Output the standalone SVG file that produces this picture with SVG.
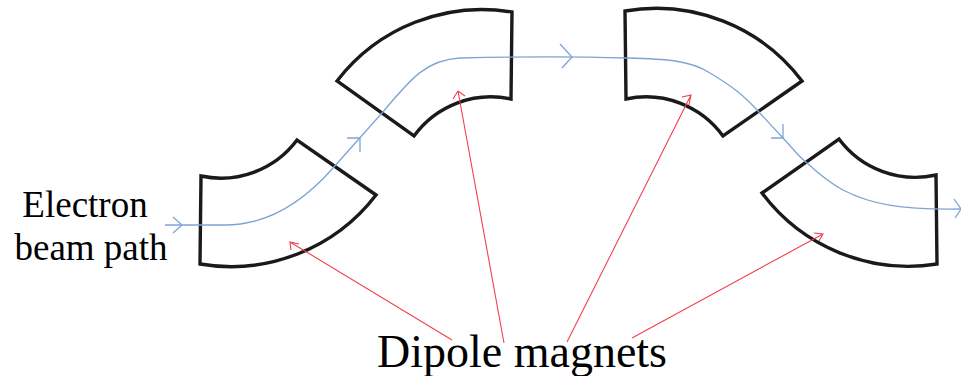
<svg xmlns="http://www.w3.org/2000/svg" width="961" height="376" viewBox="0 0 961 376">
<style>
.m{fill:none;stroke:#1a1a1a;stroke-width:3.4;stroke-linejoin:miter}
.b{fill:none;stroke:#7fa4d3;stroke-width:1.3}
.r{fill:none;stroke:#f0404e;stroke-width:1.1}
text{font-family:"Liberation Serif","Times New Roman",serif;fill:#000}
</style>
<rect width="961" height="376" fill="#fff"/>
<g id="magnet-1"><path class="m" d="M201 176A95 95 0 0 0 297 140L376 195A183 183 0 0 1 200 264Z"/></g>
<g id="magnet-2"><path class="m" d="M512 12A183 183 0 0 0 337 81L414 136A95 95 0 0 1 511 99Z"/></g>
<g id="magnet-3"><path class="m" d="M625 11A183 183 0 0 1 802 81L723 136A95 95 0 0 0 626 99Z"/></g>
<g id="magnet-4"><path class="m" d="M839 139A95 95 0 0 0 936 175L937 264A183 183 0 0 1 762 193Z"/></g>
<g id="connectors">
<path class="b" d="M165 225H225C270 225 305 200 333 168L382 113C410 80 425 60 460 58C500 57 560 56 627 58C665 59 690 60 710 73C735 88 745 97 757 110L783 138C795 151 800 158 807 163C820 175 830 183 843 190C870 204 900 210 961 209"/>
<path class="b" d="M173 217L182 225L173 233M347 138H360V152M560 44L572 57L562 68M771 138L783 138L783 124M954 199L961 209L955 218"/>
<path class="r" d="M452 340L290 242M299 244L290 242L291 250"/>
<path class="r" d="M504 343L458 91M453 99L458 91L465 96"/>
<path class="r" d="M567 342L691 95M682 97L691 95L689 105"/>
<path class="r" d="M632 338L823 234M814 233L823 234L819 241"/>
</g>
<g id="label-beam">
<text x="85" y="217" font-size="37" text-anchor="middle">Electron</text>
<text x="91" y="260" font-size="37" text-anchor="middle">beam path</text>
</g>
<g id="label-dipole"><text x="522" y="367" font-size="46" text-anchor="middle">Dipole magnets</text></g>
</svg>
